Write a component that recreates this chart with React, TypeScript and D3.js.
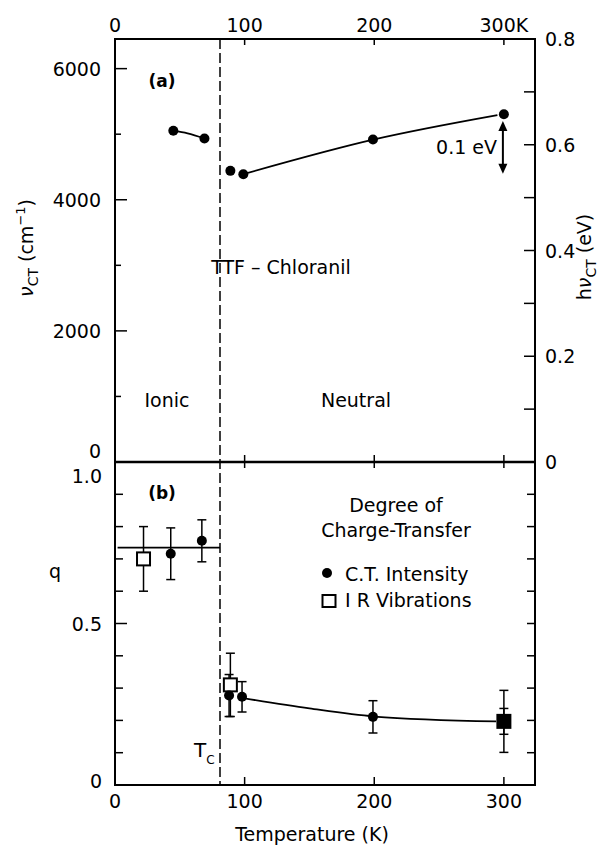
import * as d3 from 'd3'

// temperatures (K)
const tempTicks = [0, 100, 200, 300]
const Tc = 81

// panel (a): CT energy
const cmMajor = [0, 2000, 4000, 6000]
const cmMinor = [1000, 3000, 5000]
const evMajor = [0, 0.2, 0.4, 0.6, 0.8]
const evAll = [0.1, 0.2, 0.3, 0.4, 0.5, 0.6, 0.7]
const ctTemps = [45, 69, 89, 99, 199, 300]
const ctEnergy = [5053, 4935, 4441, 4390, 4920, 5305]
const fitIonicT = [45, 56, 69]
const fitIonicE = [5053, 5013, 4935]
const fitNeutralT = [99, 200, 295]
const fitNeutralE = [4390, 4920, 5290]
const arrowEv = [0.645, 0.545]

// panel (b): degree of charge transfer
const qMajor = [0, 0.5, 1.0]
const qMinor = [0.1, 0.2, 0.3, 0.4, 0.6, 0.7, 0.8, 0.9]
const ctIntTemps = [43, 67, 88, 98, 199, 300]
const ctIntQ = [0.716, 0.756, 0.277, 0.273, 0.211, 0.197]
const ctIntErr = [0.08, 0.065, 0.065, 0.047, 0.05, 0.096]
const irTemps = [22, 89, 300]
const irQ = [0.7, 0.31, 0.197]
const irErr = [0.1, 0.098, 0.04]
const ionicLevel = 0.735
const ionicRange = [2, Tc]
const fitQT = [100, 150, 200, 294]
const fitQ = [0.268, 0.237, 0.212, 0.197]

const FONT = 'DejaVu Sans, Verdana, sans-serif'
const FS = 19

export default function App() {
  const x = d3.scaleLinear().domain([0, 324]).range([115, 535])
  const yCm = d3.scaleLinear().domain([0, 6452]).range([462, 39])
  const yEv = d3.scaleLinear().domain([0, 0.8]).range([462, 39])
  const yQ = d3.scaleLinear().domain([0, 1]).range([785, 462])

  const left = x(0), right = x(324)
  const top = yEv(0.8), mid = yEv(0), bottom = yQ(0)

  const curve = d3.line<[number, number]>().curve(d3.curveMonotoneX)
  const fitA1 = curve(fitIonicT.map((t, i) => [x(t), yCm(fitIonicE[i])]))
  const fitA2 = curve(fitNeutralT.map((t, i) => [x(t), yCm(fitNeutralE[i])]))
  const fitB = curve(fitQT.map((t, i) => [x(t), yQ(fitQ[i])]))

  const sq = 13
  const r = 5
  const cap = 4.5
  const ax = x(300) - 1
  const a1 = yEv(arrowEv[0]), a2 = yEv(arrowEv[1])

  const txt = { fontFamily: FONT, fontSize: FS, fill: '#000' } as const

  return (
    <div style={{ position: 'absolute', left: 0, top: 0 }}>
      <svg width={602} height={847} style={{ display: 'block', background: '#fff' }}>
        {/* frame */}
        <g fill="none" stroke="#000" strokeWidth={2}>
          <rect x={left} y={top} width={right - left} height={bottom - top} />
          <line x1={left} x2={right} y1={mid} y2={mid} strokeWidth={2.5} />
        </g>

        {/* top axis */}
        {tempTicks.filter(t => t > 0).map(t => (
          <line key={'tt' + t} x1={x(t)} x2={x(t)} y1={top} y2={top + 6} stroke="#000" strokeWidth={1.5} />
        ))}
        {tempTicks.map(t => (
          <text key={'tl' + t} x={x(t)} y={32} textAnchor="middle" {...txt}>{t === 300 ? '300K' : t}</text>
        ))}

        {/* boundary ticks */}
        {tempTicks.filter(t => t > 0).map(t => (
          <line key={'mt' + t} x1={x(t)} x2={x(t)} y1={mid - 7} y2={mid + 6} stroke="#000" strokeWidth={1.5} />
        ))}

        {/* bottom axis */}
        {tempTicks.filter(t => t > 0).map(t => (
          <line key={'bt' + t} x1={x(t)} x2={x(t)} y1={bottom} y2={bottom - 8} stroke="#000" strokeWidth={1.5} />
        ))}
        {tempTicks.map(t => (
          <text key={'bl' + t} x={x(t)} y={808} textAnchor="middle" {...txt}>{t}</text>
        ))}
        <text x={312} y={841} textAnchor="middle" {...txt}>Temperature (K)</text>

        {/* panel (a) left axis */}
        {cmMajor.filter(v => v > 0).map(v => (
          <line key={'cm' + v} x1={left} x2={left + 12} y1={yCm(v)} y2={yCm(v)} stroke="#000" strokeWidth={1.5} />
        ))}
        {cmMinor.map(v => (
          <line key={'cn' + v} x1={left} x2={left + 6} y1={yCm(v)} y2={yCm(v)} stroke="#000" strokeWidth={1.5} />
        ))}
        {cmMajor.map(v => (
          <text key={'cl' + v} x={101} y={v === 0 ? yCm(v) - 4 : yCm(v) + 7} textAnchor="end" {...txt}>{v}</text>
        ))}
        <text transform="translate(33,248) rotate(-90)" textAnchor="middle" {...txt}>
          <tspan fontStyle="italic">ν</tspan>
          <tspan fontSize={14} dy={5}>CT</tspan>
          <tspan dy={-5}> (cm</tspan>
          <tspan fontSize={13} dy={-8}>−1</tspan>
          <tspan dy={8}>)</tspan>
        </text>

        {/* panel (a) right axis */}
        {evAll.map(v => (
          <line key={'ev' + v} x1={right} x2={right - 11} y1={yEv(v)} y2={yEv(v)} stroke="#000" strokeWidth={1.5} />
        ))}
        {evMajor.map(v => (
          <text key={'el' + v} x={545} y={yEv(v) + 7} textAnchor="start" {...txt}>{v === 0 ? '0' : v.toFixed(1)}</text>
        ))}
        <text transform="translate(591,257) rotate(-90)" textAnchor="middle" {...txt}>
          <tspan>h</tspan>
          <tspan fontStyle="italic">ν</tspan>
          <tspan fontSize={14} dy={5}>CT</tspan>
          <tspan dy={-5}> (eV)</tspan>
        </text>

        {/* panel (b) left axis */}
        {qMinor.map(v => (
          <line key={'qm' + v} x1={left} x2={left + 8} y1={yQ(v)} y2={yQ(v)} stroke="#000" strokeWidth={1.5} />
        ))}
        <line x1={left} x2={left + 12} y1={yQ(0.5)} y2={yQ(0.5)} stroke="#000" strokeWidth={1.5} />
        {qMajor.map(v => (
          <text key={'ql' + v} x={102} y={v === 1 ? yQ(v) + 21 : v === 0 ? yQ(v) + 3 : yQ(v) + 7} textAnchor="end" {...txt}>
            {v === 0 ? '0' : v.toFixed(1)}
          </text>
        ))}
        <text x={55} y={578} textAnchor="middle" {...txt}>q</text>

        {/* panel (b) right axis */}
        {qMinor.concat([0.5]).map(v => (
          <line key={'qr' + v} x1={right} x2={right - 8} y1={yQ(v)} y2={yQ(v)} stroke="#000" strokeWidth={1.5} />
        ))}

        {/* Tc dashed line */}
        <line x1={x(Tc)} x2={x(Tc)} y1={top} y2={bottom} stroke="#000" strokeWidth={1.5} strokeDasharray="10 4" />

        {/* panel (a) annotations */}
        <text x={162} y={87} textAnchor="middle" {...txt} fontWeight="bold" fontSize={17}>(a)</text>
        <text x={281} y={274} textAnchor="middle" {...txt}>TTF – Chloranil</text>
        <text x={167} y={407} textAnchor="middle" {...txt}>Ionic</text>
        <text x={356} y={407} textAnchor="middle" {...txt}>Neutral</text>
        <text x={497} y={154} textAnchor="end" {...txt}>0.1 eV</text>
        <line x1={ax} x2={ax} y1={a1 + 8} y2={a2 - 8} stroke="#000" strokeWidth={2} />
        <path d={`M${ax},${a1} l-4.5,10 h9 Z`} fill="#000" />
        <path d={`M${ax},${a2} l-4.5,-10 h9 Z`} fill="#000" />

        {/* panel (a) data */}
        <path d={fitA1 ?? ''} fill="none" stroke="#000" strokeWidth={1.8} />
        <path d={fitA2 ?? ''} fill="none" stroke="#000" strokeWidth={1.8} />
        {ctTemps.map((t, i) => (
          <circle key={'ca' + i} cx={x(t)} cy={yCm(ctEnergy[i])} r={r} fill="#000" />
        ))}

        {/* panel (b) annotations */}
        <text x={162} y={499} textAnchor="middle" {...txt} fontWeight="bold" fontSize={17}>(b)</text>
        <text x={396} y={512} textAnchor="middle" {...txt}>Degree of</text>
        <text x={396} y={537} textAnchor="middle" {...txt}>Charge-Transfer</text>
        <circle cx={327} cy={573} r={r} fill="#000" />
        <text x={345} y={581} {...txt}>C.T. Intensity</text>
        <rect x={329 - 6.5} y={601 - 6} width={sq} height={12} fill="#fff" stroke="#000" strokeWidth={2} />
        <text x={345} y={607} {...txt}>I R Vibrations</text>
        <text x={194} y={757} {...txt} fontSize={20}>T<tspan fontSize={12} dy={7}>C</tspan></text>

        {/* panel (b) data */}
        <line x1={x(ionicRange[0])} x2={x(ionicRange[1])} y1={yQ(ionicLevel)} y2={yQ(ionicLevel)} stroke="#000" strokeWidth={1.8} />
        <path d={fitB ?? ''} fill="none" stroke="#000" strokeWidth={1.8} />
        <g stroke="#000" strokeWidth={1.5}>
          {irTemps.map((t, i) => (
            <g key={'ie' + i}>
              <line x1={x(t)} x2={x(t)} y1={yQ(irQ[i] + irErr[i])} y2={yQ(irQ[i] - irErr[i])} />
              <line x1={x(t) - cap} x2={x(t) + cap} y1={yQ(irQ[i] + irErr[i])} y2={yQ(irQ[i] + irErr[i])} />
              <line x1={x(t) - cap} x2={x(t) + cap} y1={yQ(irQ[i] - irErr[i])} y2={yQ(irQ[i] - irErr[i])} />
            </g>
          ))}
          {ctIntTemps.map((t, i) => (
            <g key={'ce' + i}>
              <line x1={x(t)} x2={x(t)} y1={yQ(ctIntQ[i] + ctIntErr[i])} y2={yQ(ctIntQ[i] - ctIntErr[i])} />
              <line x1={x(t) - cap} x2={x(t) + cap} y1={yQ(ctIntQ[i] + ctIntErr[i])} y2={yQ(ctIntQ[i] + ctIntErr[i])} />
              <line x1={x(t) - cap} x2={x(t) + cap} y1={yQ(ctIntQ[i] - ctIntErr[i])} y2={yQ(ctIntQ[i] - ctIntErr[i])} />
            </g>
          ))}
        </g>
        {irTemps.map((t, i) => (
          <rect key={'ir' + i} x={x(t) - sq / 2} y={yQ(irQ[i]) - sq / 2} width={sq} height={sq}
            fill={t === 300 ? '#000' : '#fff'} stroke="#000" strokeWidth={2} />
        ))}
        {ctIntTemps.map((t, i) => (
          <circle key={'cb' + i} cx={x(t)} cy={yQ(ctIntQ[i])} r={r} fill="#000" />
        ))}
      </svg>
    </div>
  )
}
